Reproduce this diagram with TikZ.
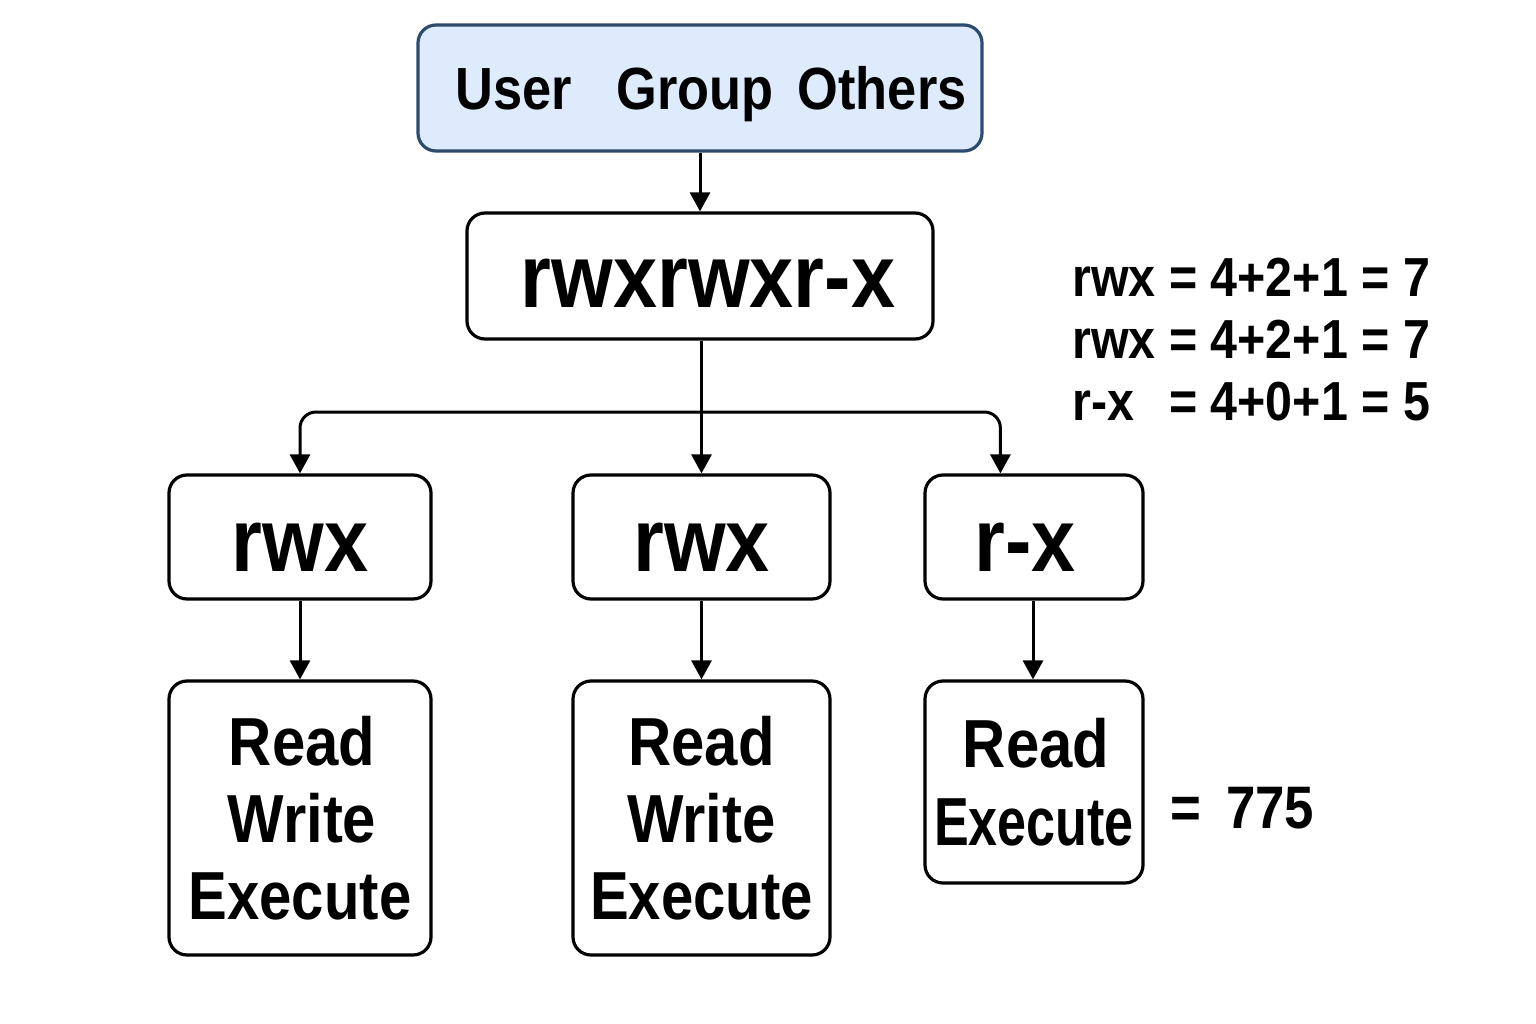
\documentclass[tikz,border=0pt]{standalone}
\usepackage{fontspec}
\setmainfont{Liberation Sans}[FakeStretch=0.88]
\usetikzlibrary{arrows.meta,calc}
\definecolor{topfill}{HTML}{DDEBFC}
\definecolor{topline}{HTML}{2D4B6E}
\newcommand{\fsz}[2]{\fontsize{#1}{#2}\selectfont\bfseries}
\begin{document}
\begin{tikzpicture}[x=1pt,y=-1pt,
  box/.style={draw=black,line width=3.2pt,rounded corners=18pt,fill=white,align=center,inner sep=0pt},
  arr/.style={line width=3pt,-{Triangle[length=19pt,width=20pt]}},
  lnk/.style={line width=3pt}]
\useasboundingbox (0,0) rectangle (1536,1024);
\fill[white] (0,0) rectangle (1536,1024);
% top
\node[box,draw=topline,fill=topfill,minimum width=564pt,minimum height=126pt,text depth=0pt,font=\fsz{59.5}{64}] (top) at (700,88) {\hspace*{22pt}User\hspace{45pt}Group\hspace{24pt}Others};
% perm string
\node[box,minimum width=466pt,minimum height=126pt,text height=62pt,text depth=0pt,font=\fsz{90}{96}] (perm) at (700,276) {\hspace*{16pt}rwxrwxr-x};
% row 3
\node[box,minimum width=262pt,minimum height=124pt,text height=68pt,text depth=0pt,font=\fsz{90}{96}] (u) at (300,537) {rwx};
\node[box,minimum width=257pt,minimum height=124pt,text height=68pt,text depth=0pt,font=\fsz{90}{96}] (g) at (701.5,537) {rwx};
\node[box,minimum width=218pt,minimum height=124pt,text height=68pt,text depth=0pt,font=\fsz{90}{96}] (o) at (1034,537) {r-x\hspace*{18pt}};
% row 4
\node[box,minimum width=262pt,minimum height=274pt,font=\fsz{68}{77}] (ud) at (300,818) {\hspace*{4pt}Read\\\hspace*{4pt}Write\\\scalebox{0.97}[1]{Execute}};
\node[box,minimum width=257pt,minimum height=274pt,font=\fsz{68}{77}] (gd) at (701.5,818) {Read\\Write\\\scalebox{0.97}[1]{Execute}};
\node[box,minimum width=218pt,minimum height=202pt,font=\fsz{68}{78}] (od) at (1034,782) {\hspace*{4pt}Read\\\scalebox{0.87}[1]{Execute}};
% connectors
\draw[arr] (top.south) -- (perm.south |- perm.north);
\coordinate (j) at (701.5,412);
\path (o.north west) ++(77,0) coordinate (oin);
\draw[arr] (g.north |- perm.south) -- (g.north);
\draw[arr,rounded corners=16pt] (j) -| (u.north);
\draw[arr,rounded corners=16pt] (j) -| (oin);
\draw[arr] (u.south) -- (ud.north);
\draw[arr] (g.south) -- (gd.north);
\draw[arr] (o.south) ++(-1,0) coordinate (os) -- (os |- od.north);
% formulas
\node[anchor=base west,inner sep=0pt,font=\fsz{55}{60}] (f1) at (1072,297) {rwx = 4+2+1 = 7};
\node[anchor=base west,inner sep=0pt,font=\fsz{55}{60}] (f2) at (1072,358) {rwx = 4+2+1 = 7};
\node[anchor=base west,inner sep=0pt,font=\fsz{55}{60}] (f3) at (1072,420) {\makebox[0pt][l]{r-x}\phantom{rwx} = 4+0+1 = 5};
\node[anchor=base west,inner sep=0pt,font=\fsz{60}{64}] (tot) at (1170,828) {=\hspace{25pt}775};
\end{tikzpicture}
\end{document}
